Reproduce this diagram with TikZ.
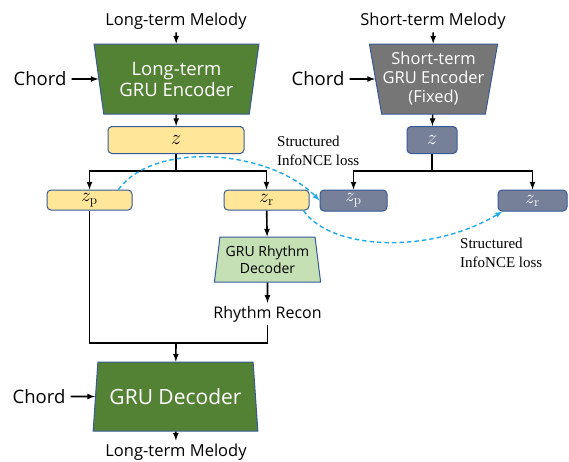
\documentclass[tikz,border=0pt]{standalone}
\usepackage{fix-cm}
\usepackage[no-math]{fontspec}
\setmainfont{Open Sans}
\newfontfamily\lossfont{Liberation Serif}
\usetikzlibrary{arrows,calc,positioning,shapes.geometric}

\definecolor{dkgreen}{RGB}{84,130,53}
\definecolor{ltgreen}{RGB}{197,224,180}
\definecolor{zyellow}{RGB}{255,230,153}
\definecolor{encgray}{RGB}{118,118,118}
\definecolor{zgray}{RGB}{118,128,152}
\definecolor{edge}{RGB}{55,90,150}
\definecolor{losscyan}{RGB}{30,170,235}

\begin{document}
\begin{tikzpicture}[x=1pt, y=-1pt, >=latex,
                        enc/.style    ={trapezium, draw=edge, line width=1pt, text=white, align=center,
                                        trapezium stretches=true, inner sep=1pt},
                        zbox/.style   ={rectangle, rounded corners=4pt, draw=edge, line width=1pt,
                                        minimum height=20pt, inner sep=0},
                        melody/.style ={inner sep=3pt, font=\fontsize{16.5}{19}\selectfont},
                        chord/.style  ={inner sep=5pt, font=\fontsize{18.5}{21}\selectfont},
                        flow/.style   ={->, draw, color=black, line width=1.6pt},
                        tree/.style   ={-, draw, color=black, line width=1.6pt},
                        loss/.style   ={-latex, draw, color=losscyan, line width=1.4pt, dash pattern=on 4.5pt off 3pt},
                        label/.style  ={align=left, inner sep=0, font=\lossfont\fontsize{15}{19}\selectfont}]

      \useasboundingbox (0,0) rectangle (569,461);

      % long-term branch
      \node[melody] at (176,21)               (melL)   {Long-term Melody};
      \node[enc, fill=dkgreen, shape border rotate=180, minimum width=165pt, minimum height=70pt,
            trapezium angle=78, font=\fontsize{18.5}{21}\selectfont]
                    at($(melL)  +(0.5,58)$)   (encL)   {Long-term\\GRU Encoder};
      \node[chord]  at($(encL)  -(136.5,0)$)  (chordL) {Chord};
      \node[zbox, fill=zyellow, minimum width=136pt, minimum height=27pt, font=\fontsize{21}{24}\selectfont]
                    at($(encL)  +(-0.5,61)$)  (zL)     {$z$};
      \node[zbox, fill=zyellow, minimum width=85pt, font=\fontsize{19}{22}\selectfont]
                    at($(zL)    +(-86.5,60)$) (zpL)    {$z_{\mathrm{p}}$};
      \node[zbox, fill=zyellow, minimum width=85pt, font=\fontsize{19}{22}\selectfont]
                    at($(zL)    +(90.5,60)$)  (zrL)    {$z_{\mathrm{r}}$};
      \node[enc, fill=ltgreen, text=black, minimum width=107pt, minimum height=45pt,
            trapezium angle=80.5, font=\fontsize{14}{17}\selectfont]
                    at($(zrL)   +(1,59.5)$)   (rdec)   {GRU Rhythm\\Decoder};
      \node[melody, font=\fontsize{16}{19}\selectfont]
                    at($(rdec)  +(0,54.5)$)   (recon)  {Rhythm Recon};
      \coordinate (merge) at(176,343);
      \node[enc, fill=dkgreen, minimum width=165pt, minimum height=69pt,
            trapezium angle=77.3, font=\fontsize{21}{24}\selectfont]
                    at($(merge) +(-0.5,53.5)$) (dec)   {GRU Decoder};
      \node[chord]  at($(dec)   -(136.5,0)$)  (chordD) {Chord};
      \node[melody] at($(dec)   +(0.5,55.5)$) (melD)   {Long-term Melody};

      % short-term branch
      \node[melody] at (433,21)               (melS)   {Short-term Melody};
      \node[enc, fill=encgray, shape border rotate=180, minimum width=125pt, minimum height=70pt,
            trapezium angle=77.5, font=\fontsize{16.5}{19}\selectfont]
                    at($(melS)  +(0.5,58)$)   (encS)   {Short-term\\GRU Encoder\\(Fixed)};
      \node[chord]  at($(encS)  -(115.5,0)$)  (chordS) {Chord};
      \node[zbox, fill=zgray, text=white, minimum width=50pt, minimum height=27pt, font=\fontsize{21}{24}\selectfont]
                    at($(encS)  +(-1.5,61)$)  (zS)     {$z$};
      \node[zbox, fill=zgray, text=white, minimum width=67pt, minimum height=21pt, font=\fontsize{19}{22}\selectfont]
                    at($(zS)    +(-78.5,60.5)$) (zpS)  {$z_{\mathrm{p}}$};
      \node[zbox, fill=zgray, text=white, minimum width=69pt, minimum height=21pt, font=\fontsize{19}{22}\selectfont]
                    at($(zS)    +(100.5,60.5)$) (zrS)  {$z_{\mathrm{r}}$};

      \node[label, anchor=west] at(277,150.5) (lossP) {Structured\\InfoNCE loss};
      \node[label, anchor=west] at(460,252.5) (lossR) {Structured\\InfoNCE loss};

      \path[flow] (melL)   -- (encL);
      \path[flow] (chordL) -- (encL);
      \path[flow] (encL)   -- (zL);
      \path[flow] (zL.south) -- +(0,17) -| (zpL.north);
      \path[flow] (zL.south) -- +(0,17) -| (zrL.north);
      \path[flow] (zrL)    -- (rdec);
      \path[flow] (rdec)   -- (recon);
      \path[tree] (zpL)    |- (merge);
      \path[tree] (recon)  |- (merge);
      \path[flow] (merge)  -- (dec);
      \path[flow] (chordD) -- (dec);
      \path[flow] (dec)    -- (melD);

      \path[flow] (melS)   -- (encS);
      \path[flow] (chordS) -- (encS);
      \path[flow] (encS)   -- (zS);
      \path[flow] (zS.south) -- +(0,17) -| (zpS.north);
      \path[flow] (zS.south) -- +(0,17) -| (zrS.north);

      \path[loss] (zpL.20) .. controls (155,140) and (270,150) .. (zpS.west);
      \path[loss] (zrL.south east) ++(-6,0) .. controls (330,250) and (430,255) .. (zrS.200);
    \end{tikzpicture}
\end{document}
